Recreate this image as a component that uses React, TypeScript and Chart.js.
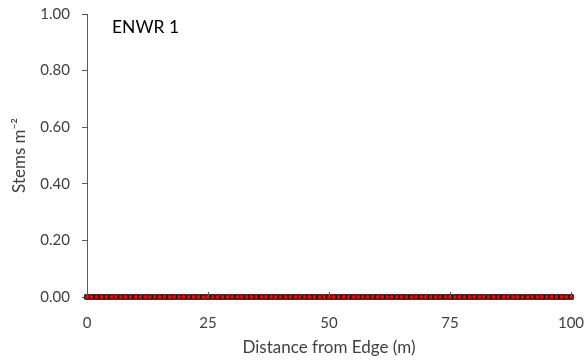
import React, { useEffect, useRef } from "react";
import { Chart, registerables } from "chart.js";

Chart.register(...registerables);

const distances = [
  0, 1, 2, 3, 4, 5, 6, 7, 8, 9, 10, 11, 12, 13, 14, 15, 16, 17, 18, 19, 20,
  21, 22, 23, 24, 25, 26, 27, 28, 29, 30, 31, 32, 33, 34, 35, 36, 37, 38, 39, 40,
  41, 42, 43, 44, 45, 46, 47, 48, 49, 50, 51, 52, 53, 54, 55, 56, 57, 58, 59, 60,
  61, 62, 63, 64, 65, 66, 67, 68, 69, 70, 71, 72, 73, 74, 75, 76, 77, 78, 79, 80,
  81, 82, 83, 84, 85, 86, 87, 88, 89, 90, 91, 92, 93, 94, 95, 96, 97, 98, 99, 100,
];

const stems = [
  0, 0, 0, 0, 0, 0, 0, 0, 0, 0, 0, 0, 0, 0, 0, 0, 0, 0, 0, 0, 0,
  0, 0, 0, 0, 0, 0, 0, 0, 0, 0, 0, 0, 0, 0, 0, 0, 0, 0, 0, 0,
  0, 0, 0, 0, 0, 0, 0, 0, 0, 0, 0, 0, 0, 0, 0, 0, 0, 0, 0, 0,
  0, 0, 0, 0, 0, 0, 0, 0, 0, 0, 0, 0, 0, 0, 0, 0, 0, 0, 0, 0,
  0, 0, 0, 0, 0, 0, 0, 0, 0, 0, 0, 0, 0, 0, 0, 0, 0, 0, 0, 0,
];

const xTicks = [0, 25, 50, 75, 100];
const yTicks = [0, 0.2, 0.4, 0.6, 0.8, 1.0];

const siteLabel = "ENWR 1";
const xTitle = "Distance from Edge (m)";
const yTitle = "Stems m\u207B\u00B2";

const FONT = "Lato, 'Open Sans', sans-serif";
const TEXT = "#404040";
const AXIS = "#595959";

// Site name in the top-left of the plot, plus inward tick marks on the x axis
const decorations = {
  id: "decorations",
  afterDraw(chart: any) {
    const { ctx, chartArea, scales } = chart;
    ctx.save();
    ctx.strokeStyle = AXIS;
    ctx.lineWidth = 1;
    xTicks.forEach((v) => {
      const px = Math.round(scales.x.getPixelForValue(v)) + 0.5;
      ctx.beginPath();
      ctx.moveTo(px, chartArea.bottom);
      ctx.lineTo(px, chartArea.bottom - 5);
      ctx.stroke();
    });
    ctx.fillStyle = "#000";
    ctx.font = `17.5px ${FONT}`;
    ctx.textBaseline = "middle";
    ctx.textAlign = "left";
    ctx.fillText(siteLabel, chartArea.left + 25, chartArea.top + 13);
    ctx.restore();
  },
};

export default function App() {
  const canvasRef = useRef<HTMLCanvasElement | null>(null);

  useEffect(() => {
    document.body.style.margin = "0";
    const canvas = canvasRef.current;
    if (!canvas) return;
    const chart = new Chart(canvas, {
      type: "scatter",
      data: {
        datasets: [
          {
            data: distances.map((d, i) => ({ x: d, y: stems[i] })),
            showLine: true,
            borderColor: "#000",
            borderWidth: 1,
            pointStyle: "rect",
            pointRadius: 3.2,
            pointBorderWidth: 1,
            pointBorderColor: "#000",
            pointBackgroundColor: "#ff0000",
            clip: false,
          },
        ],
      },
      options: {
        animation: false,
        responsive: false,
        devicePixelRatio: 1,
        layout: { padding: { top: 14, right: 16, bottom: 0, left: 9 } },
        plugins: {
          legend: { display: false },
          tooltip: { enabled: false },
        },
        scales: {
          x: {
            type: "linear",
            min: 0,
            max: 100,
            afterBuildTicks: (s: any) => {
              s.ticks = xTicks.map((v) => ({ value: v }));
            },
            afterFit: (s: any) => {
              s.height = 63;
              s.paddingLeft = 0;
              s.paddingRight = 0;
            },
            grid: { display: false, drawTicks: false },
            border: { display: true, color: AXIS, width: 1 },
            ticks: {
              color: TEXT,
              font: { family: FONT, size: 15 },
              padding: 17,
              maxRotation: 0,
            },
            title: {
              display: true,
              text: xTitle,
              color: TEXT,
              font: { family: FONT, size: 17 },
              padding: { top: 3, bottom: 2 },
            },
          },
          y: {
            type: "linear",
            min: 0,
            max: 1,
            afterBuildTicks: (s: any) => {
              s.ticks = yTicks.map((v) => ({ value: v }));
            },
            afterFit: (s: any) => {
              s.width = 78;
              s.paddingTop = 0;
              s.paddingBottom = 0;
            },
            grid: {
              drawOnChartArea: false,
              drawTicks: true,
              tickLength: 5,
              color: AXIS,
            },
            border: { display: true, color: AXIS, width: 1 },
            ticks: {
              color: TEXT,
              font: { family: FONT, size: 15 },
              padding: 12,
              callback: (v: any) => Number(v).toFixed(2),
            },
            title: {
              display: true,
              text: yTitle,
              color: TEXT,
              font: { family: FONT, size: 17 },
              padding: { top: 0, bottom: 4 },
            },
          },
        },
      },
      plugins: [decorations],
    });
    return () => chart.destroy();
  }, []);

  return (
    <div style={{ position: "absolute", left: 0, top: 0, width: 587, height: 360, background: "#fff" }}>
      <canvas ref={canvasRef} width={587} height={360} />
    </div>
  );
}
